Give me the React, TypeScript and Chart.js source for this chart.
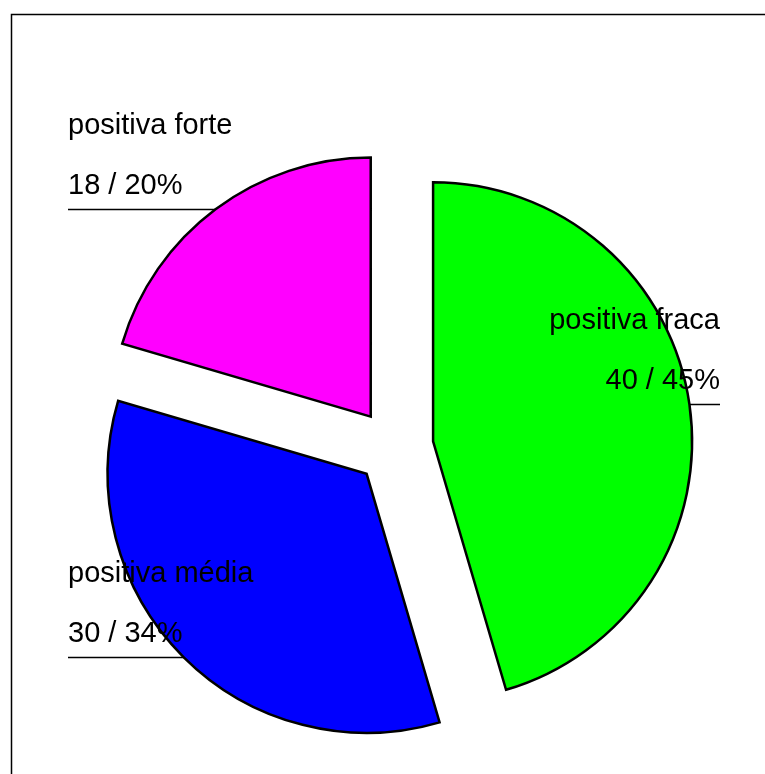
import React, { useEffect, useRef } from "react";
import { Chart, registerables } from "chart.js";

Chart.register(...registerables);

const categories = ["positiva fraca", "positiva média", "positiva forte"];
const values = [40, 30, 18];
const sliceColors = ["#00ff00", "#0000ff", "#ff00ff"];
const explodeDistances = [40, 38, 38];

const total = values.reduce((a, b) => a + b, 0);
const valueLabels = values.map((v) => `${v} / ${Math.round((v / total) * 100)}%`);

const explodePlugin = {
  id: "explodeSlices",
  afterDatasetUpdate(chart: any, args: any, opts: any) {
    const meta = chart.getDatasetMeta(args.index);
    meta.data.forEach((arc: any, i: number) => {
      const d = (opts.distances && opts.distances[i]) || 0;
      const mid = (arc.startAngle + arc.endAngle) / 2;
      arc.x += Math.cos(mid) * d;
      arc.y += Math.sin(mid) * d;
    });
  },
};

const framePlugin = {
  id: "frameLines",
  beforeDraw(chart: any) {
    const ctx = chart.ctx;
    ctx.save();
    ctx.strokeStyle = "#000";
    ctx.lineWidth = 1.5;
    ctx.beginPath();
    ctx.moveTo(11.5, chart.height + 10);
    ctx.lineTo(11.5, 14.5);
    ctx.lineTo(chart.width + 10, 14.5);
    ctx.stroke();
    ctx.restore();
  },
};

function anchorOf(arc: any) {
  const mid = (arc.startAngle + arc.endAngle) / 2;
  const r = arc.outerRadius;
  return { x: arc.x + Math.cos(mid) * r, y: arc.y + Math.sin(mid) * r, right: Math.cos(mid) >= 0 };
}

const labelPlugin = {
  id: "sliceLabels",
  beforeDatasetsDraw(chart: any, _args: any, opts: any) {
    const ctx = chart.ctx;
    const meta = chart.getDatasetMeta(0);
    ctx.save();
    ctx.strokeStyle = "#000";
    ctx.lineWidth = 1.5;
    meta.data.forEach((arc: any) => {
      const a = anchorOf(arc);
      const y = Math.round(a.y) + 0.5;
      ctx.beginPath();
      if (a.right) {
        ctx.moveTo(a.x - 4, y);
        ctx.lineTo(opts.rightX, y);
      } else {
        ctx.moveTo(opts.leftX, y);
        ctx.lineTo(a.x + 4, y);
      }
      ctx.stroke();
    });
    ctx.restore();
  },
  afterDatasetsDraw(chart: any, _args: any, opts: any) {
    const ctx = chart.ctx;
    const meta = chart.getDatasetMeta(0);
    const labels = chart.data.labels;
    ctx.save();
    ctx.fillStyle = "#000";
    ctx.font = opts.font;
    ctx.textBaseline = "alphabetic";
    meta.data.forEach((arc: any, i: number) => {
      const a = anchorOf(arc);
      const x = a.right ? opts.rightX : opts.leftX;
      ctx.textAlign = a.right ? "right" : "left";
      ctx.fillText(labels[i], x, a.y - 75);
      ctx.fillText(opts.valueLabels[i], x, a.y - 15);
    });
    ctx.restore();
  },
};

export default function App() {
  const canvasRef = useRef<HTMLCanvasElement | null>(null);

  useEffect(() => {
    const canvas = canvasRef.current;
    if (!canvas) return;
    const chart = new Chart(canvas, {
      type: "pie",
      data: {
        labels: categories,
        datasets: [
          {
            data: values,
            backgroundColor: sliceColors,
            borderColor: "#000000",
            borderWidth: 2.5,
            borderJoinStyle: "miter",
            radius: 259,
          } as any,
        ],
      },
      options: {
        responsive: false,
        animation: false,
        devicePixelRatio: 1,
        layout: { padding: { left: 22, right: 0, top: 120, bottom: 0 } },
        plugins: {
          legend: { display: false },
          tooltip: { enabled: false },
          explodeSlices: { distances: explodeDistances },
          sliceLabels: {
            leftX: 68,
            rightX: 720,
            font: '29px "Liberation Sans", Arial, sans-serif',
            valueLabels,
          },
        } as any,
      },
      plugins: [framePlugin, explodePlugin, labelPlugin],
    });
    return () => chart.destroy();
  }, []);

  return (
    <div style={{ position: "absolute", left: 0, top: 0, width: 765, height: 774, background: "#fff" }}>
      <canvas ref={canvasRef} width={765} height={774} style={{ display: "block" }} />
    </div>
  );
}
